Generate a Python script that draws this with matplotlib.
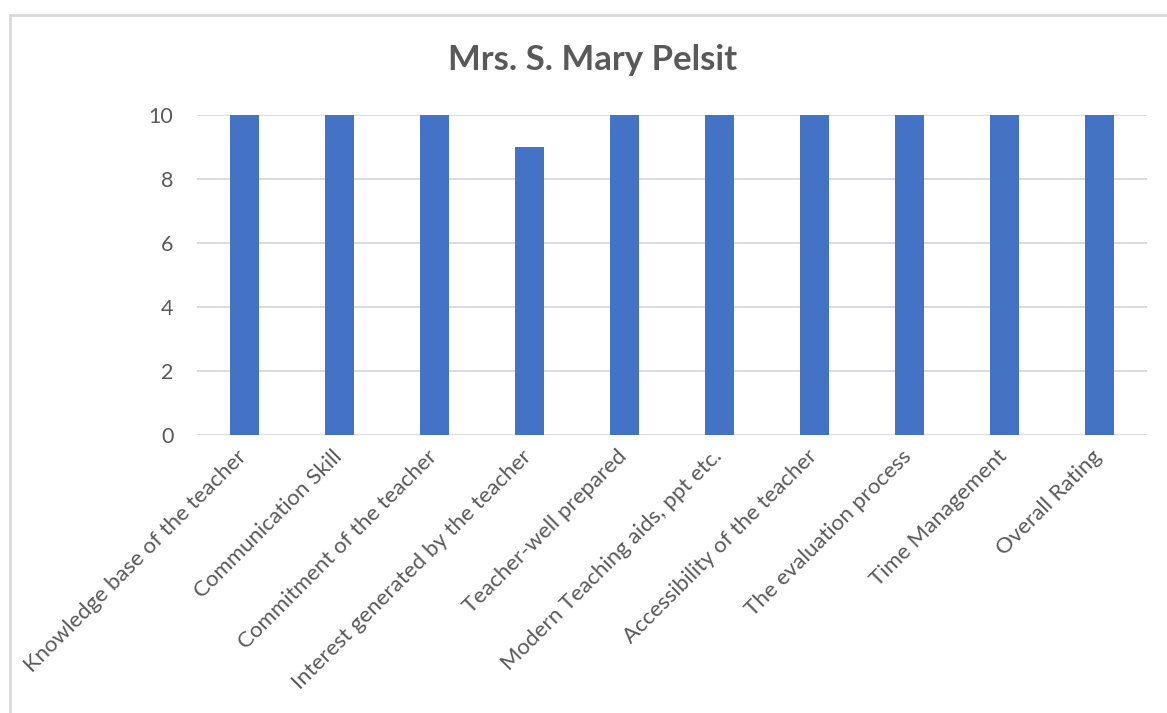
import matplotlib.pyplot as plt
import matplotlib.transforms as mtransforms
from matplotlib.patches import Rectangle

# Data
categories = [
    'Knowledge base of the teacher',
    'Communication Skill',
    'Commitment of the teacher',
    'Interest generated by the teacher',
    'Teacher-well prepared',
    'Modern Teaching aids, ppt etc.',
    'Accessibility of the teacher',
    'The evaluation process',
    'Time Management',
    'Overall Rating',
]
ratings = [10, 10, 10, 9, 10, 10, 10, 10, 10, 10]
y_ticks = [0, 2, 4, 6, 8, 10]

TEXT = '#595959'
GRID = '#d9d9d9'
BAR = '#4472C4'

plt.rcParams['font.family'] = ['Lato', 'DejaVu Sans']

fig = plt.figure(figsize=(11.67, 7.13), dpi=100)
W, H = 1167, 713

# chart frame (light gray border, runs off right and bottom)
fig.patches.append(Rectangle((10 / W, -0.02), 1.1, 1 - 15 / H + 0.02,
                             transform=fig.transFigure, fill=False,
                             edgecolor=GRID, linewidth=2))

ax = fig.add_axes([197 / W, 1 - 435 / H, 950 / W, 320 / H])
x = range(len(categories))
ax.bar(x, ratings, width=0.31, color=BAR, zorder=3)

ax.set_xlim(-0.5, len(categories) - 0.5)
ax.set_ylim(0, 10)
ax.set_yticks(y_ticks)
ax.set_yticklabels([str(v) for v in y_ticks], fontsize=15.5, color=TEXT)
ax.set_xticks(list(x))
ax.set_xticklabels(categories, rotation=45, ha='right', rotation_mode='anchor',
                   fontsize=16, color=TEXT)
ax.tick_params(axis='both', length=0)
ax.tick_params(axis='y', pad=17)
ax.tick_params(axis='x', pad=8)

# nudge the slanted labels a little left, like the original
shift = mtransforms.ScaledTranslation(-0.08, 0, fig.dpi_scale_trans)
for lbl in ax.get_xticklabels():
    lbl.set_transform(lbl.get_transform() + shift)

ax.yaxis.grid(True, color=GRID, linewidth=1.3, zorder=0)
for s in ax.spines.values():
    s.set_visible(False)

fig.text(593 / W, 1 - 60 / H, 'Mrs. S. Mary Pelsit', ha='center', va='center',
         fontsize=25, fontweight='bold', color=TEXT)

fig.savefig('out.png', dpi=100)
